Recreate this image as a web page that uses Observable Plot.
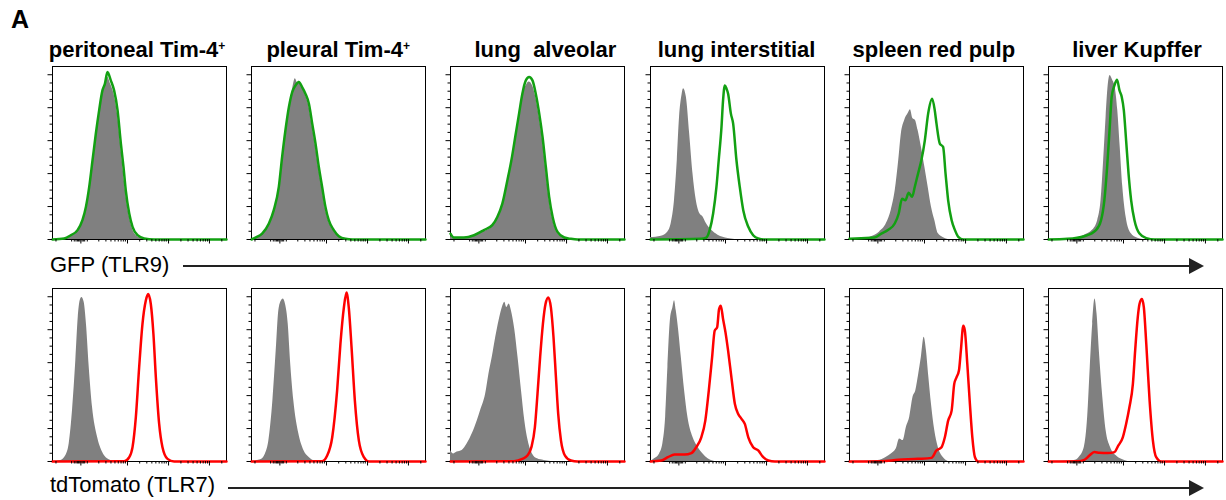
<!DOCTYPE html>
<html>
<head>
<meta charset="utf-8">
<script src="https://cdn.jsdelivr.net/npm/d3@7"></script>
<script src="https://cdn.jsdelivr.net/npm/@observablehq/plot@0.6"></script>
<style>
  html, body { margin: 0; padding: 0; background: #fff; }
  #fig { position: relative; width: 1226px; height: 500px; overflow: hidden;
         font-family: "Liberation Sans", Arial, Helvetica, sans-serif; color: #000; }
  .panel { position: absolute; }
  .panel svg { overflow: visible; display: block; }
  .title { position: absolute; font-weight: bold; font-size: 22px; line-height: 22px;
           white-space: pre; transform: translateX(-50%); }
  .title sup { font-size: 12px; vertical-align: 7px; line-height: 0; }
  .letter { position: absolute; font-weight: bold; font-size: 25px; line-height: 25px; }
  .rowlabel { position: absolute; font-size: 22px; line-height: 22px; white-space: pre; }
  .arrowline { position: absolute; height: 2px; background: #222; }
  .arrowhead { position: absolute; width: 0; height: 0; border-top: 8px solid transparent;
               border-bottom: 8px solid transparent; border-left: 15px solid #222; }
</style>
</head>
<body>
<div id="fig"></div>
<script>
// ---------------- data ----------------
// x: position along the (biexponential) fluorescence axis, % of axis width
// y: % of mode (normalized to mode); [x, y] pairs
const panelLetter = "A";
const cellTypes = ["peritoneal Tim-4", "pleural Tim-4", "lung  alveolar", "lung interstitial", "spleen red pulp", "liver Kupffer"];
const cellTypeSup = ["+", "+", "", "", "", ""];
const rowLabels = ["GFP (TLR9)", "tdTomato (TLR7)"];

const yMajorTicks = [0, 20, 40, 60, 80, 100];
const yMinorTicks = [5, 10, 15, 25, 30, 35, 45, 50, 55, 65, 70, 75, 85, 90, 95];
const xMajorTicks = [16.3, 43.1, 66.7, 90.2];
const xMinorTicks = [2, 11, 12.5, 13.5, 14.3, 15, 15.7, 17, 17.7, 18.5, 20, 26.6, 30.7, 33.6, 35.9, 37.8, 39.4, 40.7, 41.9,
  50.1, 54.2, 57.1, 59.4, 61.3, 62.9, 64.2, 65.4, 73.8, 77.9, 80.8, 83.1, 85.0, 86.6, 87.9, 89.1, 97.3];

// GFP (TLR9) row: grey = control, green = reporter
const gfpCtrl_peritoneal = [[0,0],[8,0.4],[11,2],[14.6,5],[17.4,11],[19.4,19],[21.3,31],[23.2,47],[25.1,63],[27,77],[28.9,89],[30.3,93],[31.6,98.6],[33.5,94],[35.4,88],[37.4,76],[39.2,57],[40.6,43],[42,29],[44,15],[45.8,7],[48.5,2],[52,0.4],[56,0]];
const gfpStain_peritoneal = [[0,0],[6.7,0.6],[10.5,2.6],[14.4,5.7],[17.2,11.7],[19.2,19.8],[21.1,31.9],[23.0,48.1],[24.9,64.2],[26.8,78.4],[28.7,90.5],[30.1,94.5],[31.6,101.6],[33.5,96.6],[35.4,90.5],[37.4,78.4],[39.3,58.2],[40.8,44.0],[42.1,29.9],[44.1,15.8],[46.0,7.7],[48.9,2.6],[52.7,0.6],[58.4,0],[100,0]];

const gfpCtrl_pleural = [[0,0],[2.5,1],[6.3,3.3],[10.2,9.3],[13,17.3],[15.9,31.5],[17.8,49.6],[19.7,66],[21.6,80.4],[23.4,90],[25.2,97.6],[26.5,95],[27.4,96],[29.2,92],[31.0,87.5],[32.9,81.5],[34.8,69.5],[36.7,57.5],[38.6,43.5],[40.5,31.5],[42.4,19.3],[44.3,11.3],[47.2,5.3],[50.1,1.8],[54,0.3],[58,0]];
const gfpStain_pleural = [[0,0],[2.3,1.2],[6.1,3.6],[10.0,9.7],[12.8,17.8],[15.7,31.9],[17.6,50.1],[19.5,66.3],[21.5,80.4],[23.4,89.5],[25.3,93.5],[27.2,95.6],[29.1,92.5],[31.0,88.5],[33.0,82.4],[34.9,70.3],[36.8,58.2],[38.7,44.0],[40.6,31.9],[42.5,19.8],[44.4,11.7],[47.3,5.7],[50.2,2.0],[54.0,0.4],[58,0],[100,0]];

const gfpCtrl_alveolar = [[0,2],[1.9,0.8],[7.7,0.8],[13.5,2],[19.2,4.8],[24,7.8],[26.9,12.8],[29.8,21],[32.7,35],[35,47],[37.5,63],[39.4,75.5],[41.3,87.5],[43.3,93],[45.2,95.6],[47.1,93.5],[49,86.5],[51,74.5],[52.9,60.5],[54.8,42.5],[56.7,24.5],[58.7,12.5],[61.5,4],[65.4,1],[69,0.2],[72,0]];
const gfpStain_alveolar = [[0,3.5],[1.9,1.2],[7.7,1.2],[13.5,2.6],[19.2,5.7],[24.0,8.7],[26.9,13.7],[29.8,21.8],[32.7,36.0],[35.0,48.1],[37.5,64.2],[39.4,76.4],[41.3,88.5],[43.3,96.6],[45.2,98.6],[47.1,96.6],[49.0,88.5],[51.0,76.4],[52.9,62.2],[54.8,44.0],[56.7,25.9],[58.7,13.7],[61.5,4.6],[65.4,1.2],[69.2,0.4],[73,0],[100,0]];

const gfpCtrl_interstitial = [[0,1.2],[6.2,2.0],[10.0,4.6],[11.9,9.7],[13.8,23.8],[15.4,48.1],[16.7,74.3],[18.1,87.5],[19.0,91.5],[20.6,86.5],[22.5,64.2],[24.4,40.0],[26.3,23.8],[28.3,15.8],[30.2,13.7],[32.1,9.7],[35.0,5.7],[38.8,2.6],[44.6,0.6],[48.5,0]];
const gfpStain_interstitial = [[0,0],[29.2,0.4],[32.1,1.2],[34.0,5.7],[36.0,15.8],[37.9,31.9],[39.2,48.1],[40.8,68.3],[41.7,84.4],[42.7,93.5],[43.7,91.5],[44.6,88.5],[46.2,76.4],[47.5,70.3],[49.4,48.1],[51.3,31.9],[53.3,17.8],[56.2,7.7],[59.0,2.6],[61.9,0.6],[65.8,0],[100,0]];

const gfpCtrl_spleen = [[0,0],[8.7,0.4],[12.5,1.6],[17.3,4.6],[21.2,9.7],[24.0,17.8],[26.3,29.9],[28.3,48.1],[29.8,64.2],[31.7,72.3],[33.7,76.4],[35.0,78.8],[36.5,73.3],[37.9,72.3],[39.4,66.3],[41.3,56.2],[43.3,44.0],[45.2,31.9],[47.1,19.8],[49.0,11.7],[51.0,3.6],[53.8,1.2],[56.7,0]];
const gfpStain_spleen = [[0,0.4],[6.7,0.8],[14.4,1.2],[18.3,3.6],[22.1,5.7],[26.0,9.7],[28.3,15.8],[30.2,24.8],[32.1,23.8],[34.0,28.3],[36.0,25.9],[37.5,31.9],[39.4,40.0],[41.3,48.1],[43.3,60.2],[45.2,76.4],[47.5,85.5],[49.0,78.4],[50.0,70.3],[51.9,58.2],[53.8,56.2],[55.2,40.0],[56.7,23.8],[58.7,11.7],[60.6,5.7],[62.5,1.6],[65.4,0],[100,0]];

const gfpCtrl_kupffer = [[0,0],[14.8,0.6],[20.6,2.6],[25.4,5.7],[28.3,11.7],[30.2,23.8],[31.7,48.1],[33.1,74.3],[34.4,94.5],[35.4,99.6],[36.9,96.6],[38.3,92.5],[39.8,78.4],[41.2,56.2],[42.7,31.9],[44.6,13.7],[47.5,3.6],[51.3,0.8],[55.2,0]];
const gfpStain_kupffer = [[0,0],[11.0,0.4],[20.6,2.0],[27.3,5.7],[30.2,11.7],[32.1,23.8],[33.7,44.0],[35.2,68.3],[36.3,86.5],[37.9,93.5],[39.4,97.0],[40.8,90.5],[42.1,86.5],[43.3,78.4],[44.6,60.2],[46.0,40.0],[47.5,23.8],[49.4,11.7],[52.3,3.6],[56.2,0.8],[61.0,0],[100,0]];

// tdTomato (TLR7) row: grey = control, red = reporter
const tdCtrl_peritoneal = [[0,0],[4.8,0.6],[7.7,3.6],[9.6,10.7],[11.5,30.9],[13.4,61.2],[14.8,87.5],[15.9,97.6],[16.9,99.6],[18.2,96.6],[19.5,83.4],[21.1,57.2],[23.0,32.9],[25.9,14.7],[28.7,5.7],[31.6,1.6],[35.4,0]];
const tdStain_peritoneal = [[0,0],[41.2,0.2],[44.1,2.6],[46.0,8.7],[47.9,26.9],[49.8,57.2],[51.7,83.4],[53.6,97.6],[55.0,101.6],[56.5,95.6],[58.0,77.4],[59.4,51.1],[61.3,22.8],[63.2,8.7],[66.1,1.6],[69.9,0],[100,0]];

const tdCtrl_pleural = [[0,0],[5.2,1.0],[8.0,4.6],[10.0,12.7],[12.3,37.0],[14.2,67.3],[15.7,91.5],[17.2,97.6],[18.2,98.6],[19.5,95.6],[21.1,83.4],[22.4,61.2],[24.3,37.0],[27.2,16.8],[30.1,6.7],[33.0,2.6],[36.8,0]];
const tdStain_pleural = [[0,0],[40.6,0.2],[43.5,3.6],[46.4,14.7],[49.2,43.0],[51.1,71.3],[53.1,93.5],[54.6,102.6],[55.9,93.5],[57.5,69.3],[59.4,37.0],[61.7,12.7],[64.6,2.6],[67.4,0],[100,0]];

const tdCtrl_alveolar = [[0,6.7],[1.9,4.6],[3.8,5.7],[6.7,6.7],[9.6,10.7],[12.5,16.8],[15.4,24.8],[17.3,30.9],[20.2,41.0],[22.1,53.1],[24.0,63.2],[26.0,75.4],[27.9,85.5],[29.8,93.5],[31.2,96.6],[32.3,93.5],[33.7,95.6],[35.0,91.5],[36.9,80.4],[38.8,63.2],[40.8,43.0],[42.7,24.8],[44.6,12.7],[47.1,4.6],[50.0,1.6],[53.8,0.6],[57.7,0]];
const tdStain_alveolar = [[0,0],[36.5,0.2],[41.3,1.6],[44.2,3.6],[46.5,8.7],[48.5,20.8],[50.0,41.0],[51.5,63.2],[53.1,83.4],[54.6,95.6],[56.2,99.6],[57.7,93.5],[59.2,75.4],[60.6,51.1],[61.9,28.9],[63.5,12.7],[65.8,3.6],[69.2,0.6],[73.1,0],[100,0]];

const tdCtrl_interstitial = [[0,0],[2.3,1.6],[5.2,4.6],[7.1,10.7],[8.7,26.9],[10.0,57.2],[11.5,86.5],[12.9,93.5],[13.8,97.6],[14.8,91.5],[16.2,79.4],[17.7,63.2],[19.6,43.0],[21.5,26.9],[24.4,14.7],[27.3,8.7],[30.2,4.6],[33.1,1.6],[36.9,0]];
const tdStain_interstitial = [[0,0],[6.2,0.6],[10.0,2.6],[13.8,4.2],[19.6,4.2],[23.5,5.1],[26.3,8.7],[29.2,14.7],[31.5,24.8],[33.5,43.0],[35.4,63.2],[36.9,79.4],[38.3,81.4],[39.4,92.5],[40.4,94.5],[41.7,86.5],[43.1,78.4],[44.6,67.3],[46.5,51.1],[48.5,34.9],[50.4,28.9],[52.3,25.9],[54.2,22.8],[56.2,14.7],[59.0,8.7],[61.9,6.7],[64.8,2.6],[67.7,0.6],[71.5,0],[100,0]];

const tdCtrl_spleen = [[0,0],[16.3,0.6],[21.2,2.6],[24.0,4.6],[26.9,7.7],[28.8,13.7],[30.8,12.7],[32.7,20.8],[34.6,26.9],[36.5,39.0],[38.1,43.0],[39.8,53.1],[41.3,63.2],[42.9,75.4],[44.2,67.3],[45.6,51.1],[47.1,34.9],[49.0,18.8],[51.0,8.7],[53.8,2.6],[56.7,0]];
const tdStain_spleen = [[0,0],[18.3,0.2],[27.9,1.0],[39.4,1.6],[47.1,2.2],[50.0,6.7],[52.9,8.7],[54.8,14.7],[56.7,24.8],[58.7,30.9],[60.2,47.1],[61.5,51.1],[62.9,55.2],[64.0,67.3],[65.4,82.4],[66.3,79.4],[67.7,59.2],[69.2,34.9],[70.6,14.7],[72.1,2.6],[74.0,0],[100,0]];

const tdCtrl_kupffer = [[0,0],[14.8,0.6],[17.7,2.6],[20.6,8.7],[22.5,26.9],[24.0,57.2],[25.4,83.4],[26.7,98.6],[27.9,89.5],[29.2,67.3],[31.2,39.0],[33.1,18.8],[35.6,8.7],[38.8,3.6],[42.7,1.0],[45.6,0]];
const tdStain_kupffer = [[0,0],[16.7,0.2],[20.6,1.0],[23.5,3.6],[26.3,5.7],[29.2,5.3],[34.0,5.1],[37.9,5.7],[39.8,9.1],[42.7,14.7],[44.6,22.8],[46.5,32.9],[48.5,47.1],[49.8,67.3],[51.3,87.5],[52.3,95.6],[53.7,98.6],[54.8,93.5],[56.2,71.3],[58.1,37.0],[60.0,12.7],[61.9,2.6],[64.8,0],[100,0]];

const gfpCtrl = [gfpCtrl_peritoneal, gfpCtrl_pleural, gfpCtrl_alveolar, gfpCtrl_interstitial, gfpCtrl_spleen, gfpCtrl_kupffer];
const gfpStain = [gfpStain_peritoneal, gfpStain_pleural, gfpStain_alveolar, gfpStain_interstitial, gfpStain_spleen, gfpStain_kupffer];
const tdCtrl = [tdCtrl_peritoneal, tdCtrl_pleural, tdCtrl_alveolar, tdCtrl_interstitial, tdCtrl_spleen, tdCtrl_kupffer];
const tdStain = [tdStain_peritoneal, tdStain_pleural, tdStain_alveolar, tdStain_interstitial, tdStain_spleen, tdStain_kupffer];

// ---------------- layout / style ----------------
const fig = document.getElementById("fig");
const frameW = 174, frameH = 173;
const frameLeft0 = 52, frameStep = 199.2;
const rowTops = [66, 288];
const mL = 8, mR = 2, mT = 2, mB = 8;
const ctrlFill = "#808080";
const lineColors = ["#12a012", "#ff0000"];
const xPerPx = 100 / frameW, yPerPx = 105 / frameH;

function panel(ctrl, stain, color) {
  return Plot.plot({
    width: frameW + mL + mR,
    height: frameH + mT + mB,
    marginLeft: mL, marginRight: mR, marginTop: mT, marginBottom: mB,
    x: {domain: [0, 100], axis: null},
    y: {domain: [0, 105], axis: null},
    style: {background: "transparent", overflow: "visible"},
    marks: [
      Plot.frame({stroke: "#000", strokeWidth: 1}),
      Plot.areaY(ctrl, {x: d => d[0], y: d => d[1], fill: ctrlFill, curve: "monotone-x"}),
      Plot.lineY(stain, {x: d => d[0], y: d => d[1], stroke: color, strokeWidth: 2.5, curve: "monotone-x", strokeLinejoin: "round"}),
      Plot.ruleY(yMajorTicks, {y: d => d, x1: 0, x2: -4.5 * xPerPx, stroke: "#000", strokeWidth: 1}),
      Plot.ruleY(yMinorTicks, {y: d => d, x1: 0, x2: -2.5 * xPerPx, stroke: "#000", strokeWidth: 1}),
      Plot.ruleX(xMajorTicks, {x: d => d, y1: 0, y2: -4.5 * yPerPx, stroke: "#000", strokeWidth: 1}),
      Plot.ruleX(xMinorTicks, {x: d => d, y1: 0, y2: -2.5 * yPerPx, stroke: "#000", strokeWidth: 1})
    ]
  });
}

for (let r = 0; r < 2; r++) {
  const ctrls = r === 0 ? gfpCtrl : tdCtrl;
  const stains = r === 0 ? gfpStain : tdStain;
  for (let i = 0; i < 6; i++) {
    const div = document.createElement("div");
    div.className = "panel";
    div.style.left = (frameLeft0 + frameStep * i - mL) + "px";
    div.style.top = (rowTops[r] - mT) + "px";
    div.appendChild(panel(ctrls[i], stains[i], lineColors[r]));
    fig.appendChild(div);
  }
}

// titles
const titleShift = [-2, 0, 8, 0, -2, 2];
cellTypes.forEach((t, i) => {
  const d = document.createElement("div");
  d.className = "title";
  d.style.left = (frameLeft0 + frameStep * i + frameW / 2 + titleShift[i]) + "px";
  d.style.top = "38.5px";
  d.textContent = t;
  if (cellTypeSup[i]) {
    const s = document.createElement("sup");
    s.textContent = cellTypeSup[i];
    d.appendChild(s);
  }
  fig.appendChild(d);
});

// panel letter
const letter = document.createElement("div");
letter.className = "letter";
letter.style.left = "11px";
letter.style.top = "7px";
letter.textContent = panelLetter;
fig.appendChild(letter);

// row labels with arrows
const labelTops = [253.5, 473.5];
const arrowY = [265.7, 488];
const arrowStart = [183, 228];
rowLabels.forEach((t, r) => {
  const l = document.createElement("div");
  l.className = "rowlabel";
  l.style.left = "50px";
  l.style.top = labelTops[r] + "px";
  l.textContent = t;
  fig.appendChild(l);
  const line = document.createElement("div");
  line.className = "arrowline";
  line.style.left = arrowStart[r] + "px";
  line.style.width = (1192 - arrowStart[r]) + "px";
  line.style.top = (arrowY[r] - 1) + "px";
  fig.appendChild(line);
  const head = document.createElement("div");
  head.className = "arrowhead";
  head.style.left = "1189px";
  head.style.top = (arrowY[r] - 8) + "px";
  fig.appendChild(head);
});
</script>
</body>
</html>
